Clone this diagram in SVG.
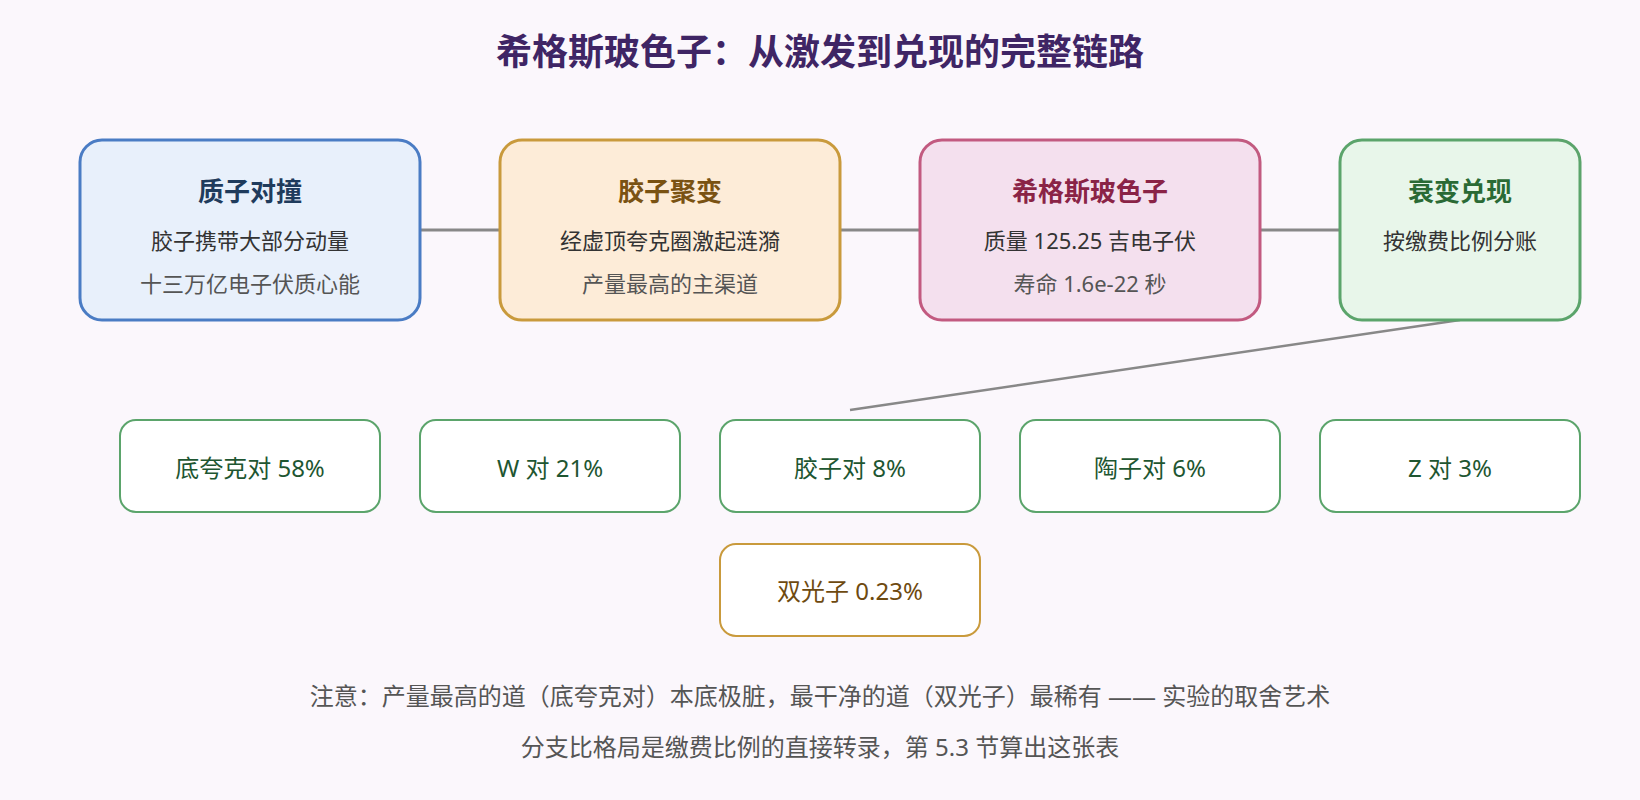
<svg xmlns="http://www.w3.org/2000/svg" width="1640" height="800" viewBox="0 0 1640 800">
  <style>
    text { font-family: "Noto Sans", "Noto Sans CJK SC", sans-serif; text-anchor: middle; }
    .title { font-size: 36px; font-weight: 700; fill: #3f2565; }
    .ntitle { font-size: 26px; font-weight: 700; }
    .l1 { font-size: 22px; fill: #333333; }
    .l2 { font-size: 22px; fill: #555555; }
    .big { stroke-width: 3; }
    .leaf { fill: #ffffff; stroke: #5ba46b; stroke-width: 2; }
    .leaf-t { font-size: 24px; fill: #1e5631; }
    .gold { fill: #ffffff; stroke: #c99a3c; stroke-width: 2; }
    .gold-t { font-size: 24px; fill: #6e4a10; }
    .note { font-size: 24px; fill: #555555; }
    .conn { stroke: #888888; fill: none; }
  </style>
  <rect x="0" y="0" width="1640" height="800" fill="#fbf7fc"/>
  <text class="title" x="820" y="65">希格斯玻色子：从激发到兑现的完整链路</text>

  <g id="connectors">
    <line class="conn" x1="420" y1="230" x2="500" y2="230" stroke-width="3"/>
    <line class="conn" x1="840" y1="230" x2="920" y2="230" stroke-width="3"/>
    <line class="conn" x1="1260" y1="230" x2="1340" y2="230" stroke-width="3"/>
    <line class="conn" x1="1460" y1="320" x2="850" y2="410" stroke-width="2.5"/>
  </g>

  <g id="node-collision">
    <rect class="big" x="80" y="140" width="340" height="180" rx="22" fill="#e8f0fb" stroke="#4a7cc4"/>
    <text class="ntitle" x="250" y="201" fill="#1f3b5c">质子对撞</text>
    <text class="l1" x="250" y="249">胶子携带大部分动量</text>
    <text class="l2" x="250" y="292">十三万亿电子伏质心能</text>
  </g>
  <g id="node-fusion">
    <rect class="big" x="500" y="140" width="340" height="180" rx="22" fill="#fdecd8" stroke="#c99a3c"/>
    <text class="ntitle" x="670" y="201" fill="#7a5212">胶子聚变</text>
    <text class="l1" x="670" y="249">经虚顶夸克圈激起涟漪</text>
    <text class="l2" x="670" y="292">产量最高的主渠道</text>
  </g>
  <g id="node-higgs">
    <rect class="big" x="920" y="140" width="340" height="180" rx="22" fill="#f4e0ee" stroke="#c25a80"/>
    <text class="ntitle" x="1090" y="201" fill="#8a2346">希格斯玻色子</text>
    <text class="l1" x="1090" y="249">质量 125.25 吉电子伏</text>
    <text class="l2" x="1090" y="292">寿命 1.6e-22 秒</text>
  </g>
  <g id="node-decay">
    <rect class="big" x="1340" y="140" width="240" height="180" rx="22" fill="#e8f6ea" stroke="#5ba46b"/>
    <text class="ntitle" x="1460" y="201" fill="#2a6a35">衰变兑现</text>
    <text class="l1" x="1460" y="249">按缴费比例分账</text>
  </g>

  <g id="node-bb">
    <rect class="leaf" x="120" y="420" width="260" height="92" rx="16"/>
    <text class="leaf-t" x="250" y="477">底夸克对 58%</text>
  </g>
  <g id="node-ww">
    <rect class="leaf" x="420" y="420" width="260" height="92" rx="16"/>
    <text class="leaf-t" x="550" y="477">W 对 21%</text>
  </g>
  <g id="node-gg">
    <rect class="leaf" x="720" y="420" width="260" height="92" rx="16"/>
    <text class="leaf-t" x="850" y="477">胶子对 8%</text>
  </g>
  <g id="node-tautau">
    <rect class="leaf" x="1020" y="420" width="260" height="92" rx="16"/>
    <text class="leaf-t" x="1150" y="477">陶子对 6%</text>
  </g>
  <g id="node-zz">
    <rect class="leaf" x="1320" y="420" width="260" height="92" rx="16"/>
    <text class="leaf-t" x="1450" y="477">Z 对 3%</text>
  </g>
  <g id="node-diphoton">
    <rect class="gold" x="720" y="544" width="260" height="92" rx="16"/>
    <text class="gold-t" x="850" y="600">双光子 0.23%</text>
  </g>

  <text class="note" x="820" y="705">注意：产量最高的道（底夸克对）本底极脏，最干净的道（双光子）最稀有 —— 实验的取舍艺术</text>
  <text class="note" x="820" y="756">分支比格局是缴费比例的直接转录，第 5.3 节算出这张表</text>
</svg>
